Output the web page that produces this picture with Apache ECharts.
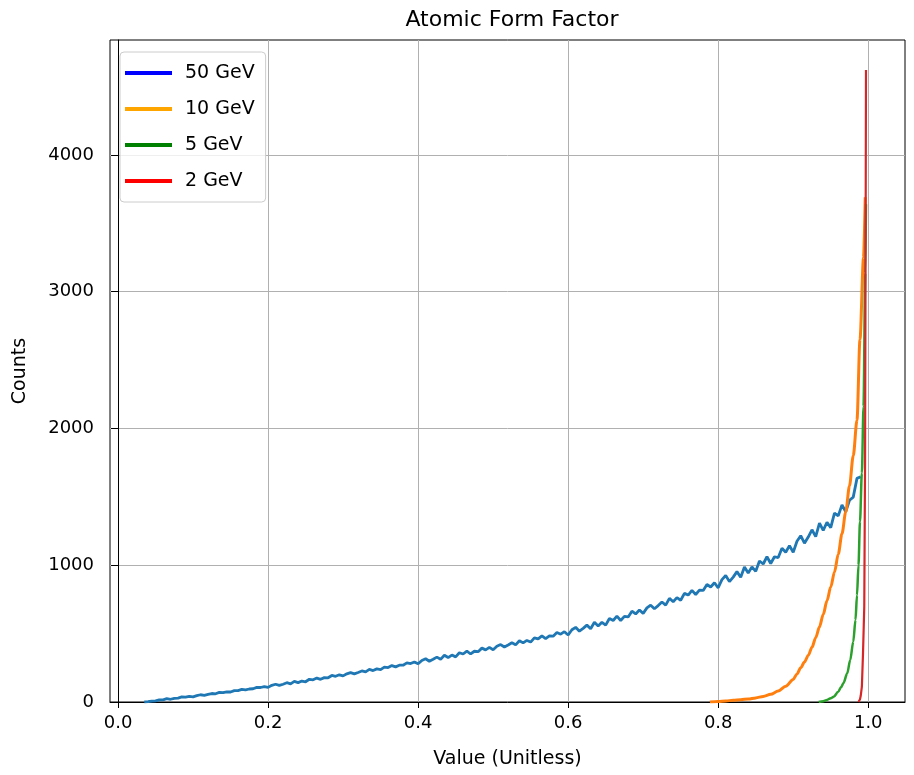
<!DOCTYPE html>
<html>
<head>
<meta charset="utf-8">
<script src="https://cdn.jsdelivr.net/npm/echarts@6/dist/echarts.min.js"></script>
<style>html,body{margin:0;padding:0;background:#fff;}#c{width:914px;height:775px;}</style>
</head>
<body>
<div id="c"></div>
<script>
// ---- data ----
const titleText = 'Atomic Form Factor';
const xAxisName = 'Value (Unitless)';
const yAxisName = 'Counts';
const seriesNames = ['50 GeV', '10 GeV', '5 GeV', '2 GeV'];
const xTickValues = [0, 0.2, 0.4, 0.6, 0.8, 1.0];
const yTickValues = [0, 1000, 2000, 3000, 4000];

// 50 GeV: histogram bins starting at 0.035, width 0.005
const blueStart = 0.035;
const blueBinWidth = 0.005;
const blueCounts = [
  0, 2, 7, 8, 16, 16, 24, 20, 27, 28, 37, 35, 41, 38, 47, 53, 49, 56, 62, 60,
  70, 68, 74, 73, 83, 83, 92, 88, 95, 97, 107, 106, 113, 107, 122, 130, 121, 130, 141, 133,
  151, 142, 153, 148, 166, 162, 175, 166, 178, 177, 194, 188, 199, 191, 206, 215, 206, 216, 227, 220,
  238, 230, 242, 237, 255, 252, 266, 257, 269, 269, 286, 281, 293, 279, 304, 316, 298, 312, 328, 312,
  342, 325, 343, 330, 360, 351, 372, 351, 371, 368, 394, 381, 399, 382, 408, 420, 402, 417, 433, 418,
  448, 432, 450, 438, 469, 461, 483, 463, 483, 481, 508, 496, 514, 490, 528, 546, 518, 538, 562, 536,
  583, 556, 583, 562, 610, 596, 628, 596, 626, 622, 664, 644, 673, 648, 688, 708, 682, 705, 731, 708,
  758, 733, 763, 744, 794, 782, 816, 786, 818, 816, 859, 841, 872, 835, 895, 925, 880, 913, 953, 912,
  987, 943, 988, 955, 1031, 1009, 1062, 1013, 1062, 1056, 1124, 1095, 1143, 1095, 1175, 1216, 1161, 1206, 1259, 1209,
  1308, 1255, 1314, 1275, 1381, 1361, 1441, 1390, 1475, 1498, 1635, 1647
];

// 10 GeV
const orangeX = [0.789, 0.80, 0.81, 0.82, 0.83, 0.84, 0.85, 0.86, 0.87, 0.88, 0.89, 0.90, 0.905, 0.91, 0.915, 0.92, 0.925, 0.93, 0.935, 0.94, 0.945, 0.95, 0.955, 0.96, 0.965, 0.97, 0.975, 0.98, 0.985, 0.989, 0.9937, 0.996];
const orangeY = [0, 4, 8, 12, 17, 22, 30, 41, 56, 80, 115, 165, 205, 250, 292, 340, 400, 470, 550, 640, 740, 840, 950, 1080, 1230, 1390, 1580, 1800, 2060, 2650, 3250, 3690];

// 5 GeV
const greenX = [0.934, 0.94, 0.945, 0.95, 0.954, 0.96, 0.964, 0.967, 0.972, 0.976, 0.98, 0.983, 0.985, 0.987, 0.989, 0.9915, 0.9937, 0.996, 0.997];
const greenY = [0, 6, 15, 28, 39, 75, 110, 139, 210, 307, 440, 600, 780, 1000, 1320, 1674, 2160, 3135, 3640];

// 2 GeV
const redX = [0.987, 0.989, 0.99, 0.9915, 0.993, 0.9947, 0.9958, 0.9966, 0.997];
const redY = [0, 20, 45, 112, 350, 697, 1800, 3600, 4620];

// ---- build ----
const pairs = (xs, ys) => xs.map((x, i) => [x, ys[i]]);
const blueData = blueCounts.map((c, i) => [blueStart + i * blueBinWidth, c]);

const lineColors = ['#1f77b4', '#ff7f0e', '#2ca02c', '#d62728'];
const legendColors = ['blue', 'orange', 'green', 'red'];
const seriesData = [blueData, pairs(orangeX, orangeY), pairs(greenX, greenY), pairs(redX, redY)];
const lineWidths = [2.8, 3, 2.5, 2.2];
const smoothing = [false, 0.3, 0.3, false];

const FONT = 'DejaVu Sans';
const chart = echarts.init(document.getElementById('c'), null, {renderer: 'canvas'});
chart.setOption({
  animation: false,
  backgroundColor: '#ffffff',
  title: {
    text: titleText,
    left: 507,
    textAlign: 'center',
    top: 4,
    textStyle: {fontFamily: FONT, fontSize: 22, fontWeight: 'normal', color: '#000'}
  },
  legend: {
    orient: 'vertical',
    left: 120,
    top: 52,
    icon: 'rect',
    itemWidth: 47,
    itemHeight: 4,
    itemGap: 16,
    padding: [11, 11, 11, 5],
    borderColor: '#cccccc',
    borderWidth: 1,
    borderRadius: 4,
    backgroundColor: 'rgba(255,255,255,0.8)',
    textStyle: {fontFamily: FONT, fontSize: 19, color: '#000', lineHeight: 20, padding: [0, 0, 0, 8]},
    data: seriesNames.map((n, i) => ({name: n, itemStyle: {color: legendColors[i], borderWidth: 0}}))
  },
  grid: {
    left: 110, right: 9, top: 40, bottom: 73,
    show: true, borderColor: '#000', borderWidth: 1, backgroundColor: 'transparent'
  },
  xAxis: {
    type: 'value',
    min: -0.0107,
    max: 1.049,
    name: xAxisName,
    nameLocation: 'middle',
    nameGap: 48,
    nameTextStyle: {fontFamily: FONT, fontSize: 19, color: '#000'},
    axisLine: {show: true, lineStyle: {color: '#000', width: 1}},
    axisTick: {show: true, inside: false, length: 6, lineStyle: {color: '#000'}, customValues: xTickValues},
    axisLabel: {fontFamily: FONT, fontSize: 18, color: '#000', margin: 12, customValues: xTickValues,
      formatter: v => Number(v).toFixed(1)},
    splitLine: {show: true, lineStyle: {color: '#b0b0b0', width: 1}}
  },
  yAxis: {
    type: 'value',
    min: 0,
    max: 4840,
    name: yAxisName,
    nameLocation: 'middle',
    nameGap: 80,
    nameTextStyle: {fontFamily: FONT, fontSize: 19, color: '#000'},
    axisLine: {show: true, lineStyle: {color: '#000', width: 1}},
    axisTick: {show: true, inside: false, length: 7, lineStyle: {color: '#000'}, customValues: yTickValues},
    axisLabel: {fontFamily: FONT, fontSize: 18, color: '#000', margin: 16, customValues: yTickValues,
      formatter: v => String(Math.round(v))},
    splitLine: {show: true, lineStyle: {color: '#b0b0b0', width: 1}}
  },
  series: seriesNames.map((n, i) => ({
    name: n,
    type: 'line',
    data: seriesData[i],
    showSymbol: false,
    symbol: 'none',
    smooth: smoothing[i],
    smoothMonotone: 'x',
    color: lineColors[i],
    lineStyle: {color: lineColors[i], width: lineWidths[i]},
    z: 2 + i
  }))
});
</script>
</body>
</html>
